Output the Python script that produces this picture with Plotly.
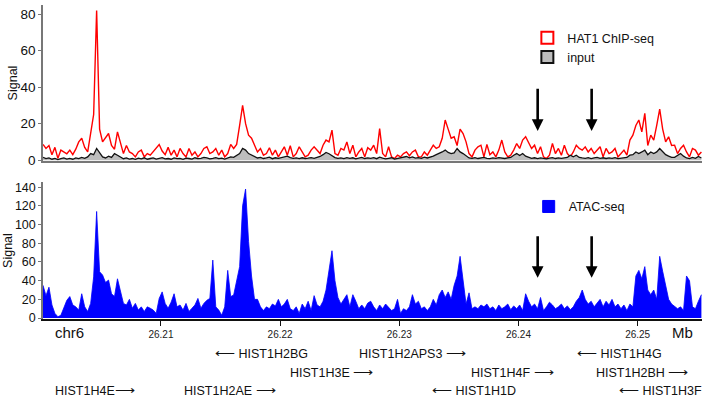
import plotly.graph_objects as go

# ---------------- data ----------------
bin_start = 26.2001      # Mb, first bin
bin_width = 0.00025      # Mb per bin

chip = [8.6, 6.4, 8, 3, 7, 1, 5.5, 4.5, 3.5, 5.5,
        3, 6, 10, 12, 7, 4.5, 15.5, 25, 82, 17,
        10, 12, 14.6, 8, 6, 15.5, 10, 3.6, 8, 4.5,
        3.6, 1.8, 4.5, 5.5, 1.8, 3.6, 2.7, 4.5, 6.4, 8.6,
        5, 3, 7, 2.7, 5.5, 1.8, 6.4, 3.6, 1.8, 6.4,
        2.7, 4.5, 1.8, 3.6, 6.4, 7.3, 3.6, 4.5, 6.4, 2.7,
        5.5, 1.8, 3.6, 8.6, 6.4, 8.6, 19, 30, 20, 13.7,
        12, 8, 4.5, 6.4, 2.7, 3.6, 6.8, 2.7, 5.5, 1.8,
        4.8, 7.3, 2.7, 7.9, 1.8, 3.6, 7.3, 4.5, 1.8, 2.7,
        5.5, 7.3, 5.5, 3.6, 8.2, 11, 10, 16.4, 3.6, 2.7,
        6.4, 5.5, 10, 3.6, 8.2, 1.8, 4.5, 6.4, 1.8, 6.8,
        5.5, 8.2, 3.6, 17.3, 3.6, 1.8, 7.3, 1.8, 0.9, 2.7,
        1.8, 3.6, 4.5, 2.4, 4.5, 5.5, 1.8, 1.8, 4.5, 2.7,
        5.5, 8.2, 6.4, 7.3, 12, 22, 17, 12, 12.8, 8,
        17, 14.6, 10, 3.6, 1.8, 5.5, 7.3, 8.2, 1.8, 8.6,
        3, 4.5, 1.8, 5.5, 11, 4.5, 1.8, 2.7, 5.5, 9.1,
        6.4, 11, 12.8, 9.1, 6.4, 8.2, 3.6, 7.3, 1.8, 0.9,
        2.7, 9.1, 3.6, 6.4, 2.7, 8.2, 3.6, 1.8, 4.5, 8.2,
        6.4, 5.5, 7.3, 4.5, 6.4, 3.6, 5.5, 7.3, 1.8, 6.4,
        3.6, 4.5, 6.4, 1.8, 3.6, 5.5, 2.7, 11, 13.7, 19,
        22, 15.5, 25.6, 8, 13.7, 11, 19, 28, 17, 10,
        12.8, 8, 8.2, 3.6, 6.4, 8.2, 4.5, 1.8, 6.4, 5.5,
        2.7, 4.5]

inp = [1.5, 0.8, 1.2, 0.5, 1.0, 0.3, 0.8, 1.2, 0.6, 1.0,
       0.5, 1.2, 0.8, 1.5, 1.0, 1.8, 3.6, 3.0, 6.4, 4.0,
       1.8, 1.2, 2.2, 1.5, 3.6, 2.7, 1.5, 0.8, 1.2, 0.6,
       0.9, 0.4, 1.1, 0.7, 1.3, 0.5, 0.9, 1.2, 0.6, 1.0,
       1.4, 0.7, 0.9, 0.5, 1.2, 0.8, 1.0, 0.4, 1.1, 0.9,
       0.6, 1.3, 0.8, 1.0, 1.5, 1.2, 0.7, 1.0, 1.4, 0.8,
       1.1, 0.6, 1.0, 1.8, 1.5, 2.7, 3.6, 6.4, 5.5, 3.6,
       2.7, 2.2, 1.2, 1.5, 0.9, 1.2, 1.6, 0.8, 1.3, 1.0,
       1.5, 1.8, 2.2, 1.4, 1.0, 1.2, 0.8, 1.3, 0.9, 1.1,
       1.4, 1.0, 1.5, 2.0, 3.0, 4.2, 3.5, 2.2, 1.4, 1.0,
       1.2, 0.8, 1.4, 1.0, 1.3, 0.7, 1.1, 1.5, 0.9, 1.2,
       1.0, 1.4, 0.8, 1.6, 1.1, 0.7, 1.0, 1.3, 0.6, 0.9,
       1.2, 1.5, 2.0, 1.3, 1.8, 1.1, 1.4, 1.0, 1.6, 1.2,
       1.5, 2.2, 3.0, 3.6, 4.5, 5.5, 4.2, 3.6, 4.0, 6.4,
       4.5, 3.6, 2.2, 1.2, 1.0, 1.4, 0.9, 1.2, 1.5, 1.0,
       0.8, 1.2, 1.0, 1.4, 1.1, 0.9, 1.3, 1.5, 2.7, 3.6,
       2.5, 3.6, 2.2, 1.5, 1.0, 1.3, 0.8, 1.2, 1.0, 0.7,
       1.1, 1.4, 0.9, 1.2, 1.0, 1.3, 1.5, 2.7, 1.8, 2.7,
       1.5, 1.2, 1.0, 1.4, 0.8, 1.2, 1.5, 1.0, 1.3, 0.9,
       1.2, 1.0, 1.4, 0.8, 1.1, 1.3, 1.5, 2.7, 3.0, 4.5,
       3.6, 4.5, 5.5, 3.0, 4.5, 3.6, 4.5, 6.4, 4.5, 3.0,
       2.2, 1.5, 1.5, 2.7, 3.6, 2.2, 1.2, 0.8, 1.5, 1.0,
       2.0, 1.2]

atac = [35, 24, 33, 14, 5, 1.4, 3, 12, 19, 23,
        14, 12, 8.5, 26, 12, 7, 15.7, 44, 114, 49.5,
        46, 38, 40.6, 26, 23, 42, 30, 15.7, 14, 20,
        10.5, 15.7, 8.5, 12, 7, 12, 10.5, 8.5, 5, 21,
        28, 15.7, 10.5, 17, 26, 12, 14, 8.5, 15.7, 7,
        10.5, 14, 21, 10.5, 15.7, 19, 21, 62, 12, 8.5,
        3, 12, 51, 23, 24.6, 40, 55, 120, 138, 82,
        45, 20, 20, 12, 8, 12, 10, 15, 13, 20,
        12, 15, 20, 10, 8, 12, 5, 15, 10, 18,
        8, 24, 14, 12, 18, 30, 50, 72, 40, 22,
        15, 20, 25, 12, 25, 18, 10, 14, 10, 16,
        18, 12, 8, 14, 10, 15, 12, 8, 10, 20,
        5, 10, 8, 12, 25, 15, 18, 10, 12, 8,
        12, 20, 14, 25, 30, 22, 28, 20, 35, 45,
        66, 40, 15, 27, 10, 12, 10, 14, 12, 15,
        10, 12, 8, 14, 10, 12, 15, 9, 13, 10,
        14, 8, 26, 18, 12, 15, 10, 22, 8, 12,
        17, 14, 10, 12, 15, 10, 13, 9, 12, 18,
        22, 30, 20, 15, 18, 12, 16, 20, 12, 18,
        14, 20, 12, 15, 10, 14, 8, 15, 12, 45,
        51, 42, 55, 30, 25, 30, 20, 66, 50, 35,
        20, 15, 12, 10, 12, 8, 45, 40, 12, 10,
        18, 25]

x_range = [26.2001, 26.2554]
x_ticks = [26.21, 26.22, 26.23, 26.24, 26.25]
x_ticklabels = ["26.21", "26.22", "26.23", "26.24", "26.25"]
y1_ticks = [0, 20, 40, 60, 80]
y2_ticks = [0, 20, 40, 60, 80, 100, 120, 140]

genes = ["HIST1H2BG", "HIST1H2APS3", "HIST1H4G",
         "HIST1H3E", "HIST1H4F", "HIST1H2BH",
         "HIST1H4E", "HIST1H2AE", "HIST1H1D", "HIST1H3F"]
gene_strand = ["-", "+", "-", "+", "+", "+", "+", "+", "-", "-"]
gene_label_start = [26.21436, 26.22643, 26.24471,
                    26.22065, 26.23582, 26.24631,
                    26.20094, 26.21176, 26.23255, 26.24823]
gene_row = [1, 1, 1, 2, 2, 2, 3, 3, 3, 3]

arrow_pos = [26.24161, 26.24614]

# ---------------- figure ----------------
FONT = "Liberation Sans, Arial, sans-serif"
xs = [bin_start + i * bin_width for i in range(len(chip))]

fig = go.Figure()

fig.add_trace(go.Scatter(x=xs, y=chip, mode="lines", fill="tozeroy",
                         fillcolor="white", line=dict(color="#ff0000", width=1.4),
                         showlegend=False, xaxis="x", yaxis="y"))
fig.add_trace(go.Scatter(x=xs, y=inp, mode="lines", fill="tozeroy",
                         fillcolor="#bdbdbd", line=dict(color="#111111", width=1.3),
                         showlegend=False, xaxis="x", yaxis="y"))
fig.add_trace(go.Scatter(x=xs, y=atac, mode="lines", fill="tozeroy",
                         fillcolor="#0000ff", line=dict(color="#0000ff", width=0.8),
                         showlegend=False, xaxis="x2", yaxis="y2"))

# legend entries (box symbols)
fig.add_trace(go.Bar(x=[None], y=[None], name="HAT1 ChIP-seq",
                     marker=dict(color="white", line=dict(color="#ff0000", width=2)),
                     xaxis="x", yaxis="y", legend="legend"))
fig.add_trace(go.Bar(x=[None], y=[None], name="input",
                     marker=dict(color="#bdbdbd", line=dict(color="#111111", width=2)),
                     xaxis="x", yaxis="y", legend="legend"))
fig.add_trace(go.Bar(x=[None], y=[None], name="ATAC-seq",
                     marker=dict(color="#0000ff", line=dict(color="#0000ff", width=1)),
                     xaxis="x2", yaxis="y2", legend="legend2"))

annotations = []
# black arrows
for xp in arrow_pos:
    annotations.append(dict(x=xp, y=16, ax=xp, ay=40, xref="x", yref="y",
                            axref="x", ayref="y", showarrow=True, arrowhead=2,
                            arrowsize=0.9, arrowwidth=2.6, arrowcolor="black", text=""))
    annotations.append(dict(x=xp, y=43, ax=xp, ay=89, xref="x2", yref="y2",
                            axref="x2", ayref="y2", showarrow=True, arrowhead=2,
                            arrowsize=0.9, arrowwidth=2.6, arrowcolor="black", text=""))

annotations.append(dict(text="chr6", x=0.015, y=-0.042, xref="paper", yref="paper",
                        xanchor="left", yanchor="middle", showarrow=False,
                        font=dict(family=FONT, size=15, color="#111")))
annotations.append(dict(text="Mb", x=0.99, y=-0.042, xref="paper", yref="paper",
                        xanchor="right", yanchor="middle", showarrow=False,
                        font=dict(family=FONT, size=15, color="#111")))

ARR_R = '<span style="font-size:14px">\u27f6</span>'
ARR_L = '<span style="font-size:14px">\u27f5</span>'
row_y = {1: -0.108, 2: -0.169, 3: -0.226}
for name, strand, start, row in zip(genes, gene_strand, gene_label_start, gene_row):
    if strand == "+":
        sep = "" if name == "HIST1H4E" else " "
        txt = name + sep + ARR_R
    else:
        txt = ARR_L + " " + name
    annotations.append(dict(text=txt, x=start, y=row_y[row], xref="x2", yref="paper",
                            xanchor="left", yanchor="middle", showarrow=False,
                            font=dict(family=FONT, size=12.5, color="#111")))

axis_common = dict(range=x_range, showgrid=False, zeroline=False)

fig.update_layout(
    width=702, height=400,
    margin=dict(l=43, r=0, t=5, b=81),
    paper_bgcolor="white", plot_bgcolor="white",
    font=dict(family=FONT, color="#111"),
    xaxis=dict(**axis_common, domain=[0, 1], anchor="y", showline=True,
               linecolor="#777777", linewidth=2, showticklabels=False, ticks=""),
    yaxis=dict(domain=[0.503, 1.0], range=[-0.5, 85], anchor="x",
               tickvals=y1_ticks, ticks="outside", ticklen=3, tickcolor="#777777",
               showline=True, linecolor="#777777", linewidth=1.5, showgrid=False,
               zeroline=False, tickfont=dict(family=FONT, size=13.5, color="#111"),
               title=dict(text="Signal", font=dict(family=FONT, size=12.5), standoff=0)),
    xaxis2=dict(**axis_common, domain=[0, 1], anchor="y2", showline=True,
                linecolor="#111111", linewidth=2, tickvals=x_ticks, ticktext=x_ticklabels,
                ticks="outside", ticklen=5, tickcolor="#111", tickwidth=1,
                tickfont=dict(family=FONT, size=10, color="#222")),
    yaxis2=dict(domain=[0, 0.436], range=[-1, 145.4], anchor="x2",
                tickvals=y2_ticks, ticks="outside", ticklen=3, tickcolor="#777777",
                showline=True, linecolor="#777777", linewidth=1.5, showgrid=False,
                zeroline=False, tickfont=dict(family=FONT, size=12.5, color="#111"),
                title=dict(text="Signal", font=dict(family=FONT, size=12.5), standoff=0)),
    legend=dict(x=0.735, y=0.942, xanchor="left", yanchor="top",
                bgcolor="rgba(0,0,0,0)", font=dict(family=FONT, size=12.5, color="#111"),
                tracegroupgap=0, itemwidth=30),
    legend2=dict(x=0.737, y=0.405, xanchor="left", yanchor="top",
                 bgcolor="rgba(0,0,0,0)", font=dict(family=FONT, size=12.5, color="#111"),
                 itemwidth=30),
    annotations=annotations,
    barmode="overlay",
)

fig.write_html("out.html")
